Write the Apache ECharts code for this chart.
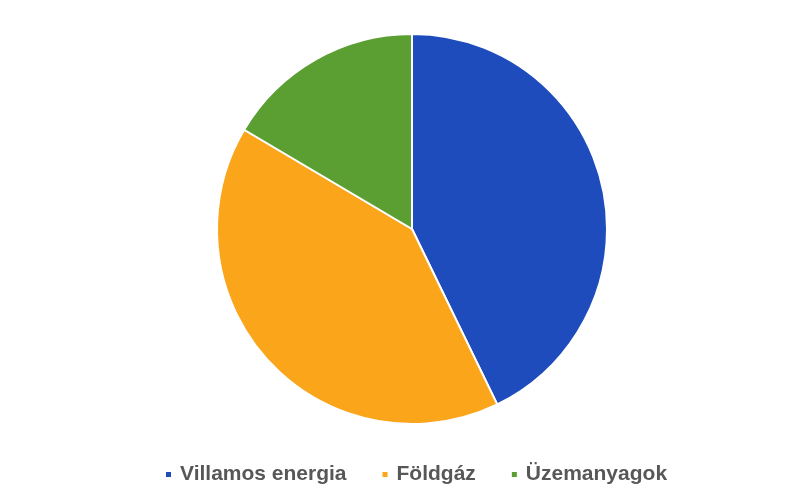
<!DOCTYPE html>
<html><head><meta charset="utf-8">
<script src="https://cdn.jsdelivr.net/npm/echarts@6/dist/echarts.min.js"></script>
<style>html,body{margin:0;padding:0;background:#fff}#c{width:797px;height:504px}</style>
</head><body><div id="c"></div>
<script>
const categories = ["Villamos energia", "Földgáz", "Üzemanyagok"];
const values = [42.8, 40.7, 16.5];
const colors = ["#1f4cbd", "#fba51b", "#5b9e32"];

const chart = echarts.init(document.getElementById('c'));
chart.setOption({
  animation: false,
  color: colors,
  legend: {
    top: 464,
    left: 164,
    padding: 0,
    icon: 'rect',
    itemWidth: 7,
    itemHeight: 7,
    itemGap: 34,
    textStyle: {color: '#575757', fontSize: 21, fontWeight: 'bold', fontFamily: 'Liberation Sans, Arial, sans-serif', padding: [0, 0, 0, 3]},
    data: categories
  },
  series: [{
    type: 'pie',
    center: [412, 229],
    radius: 195,
    startAngle: 90,
    clockwise: true,
    label: {show: false},
    labelLine: {show: false},
    itemStyle: {borderColor: '#ffffff', borderWidth: 2},
    data: categories.map((n, i) => ({name: n, value: values[i]}))
  }]
});
</script></body></html>
